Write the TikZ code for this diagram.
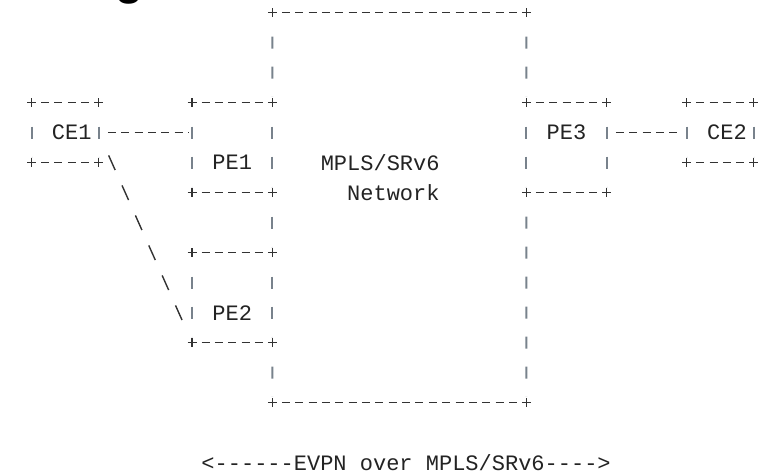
\documentclass[tikz,border=0pt]{standalone}
\usepackage{fontspec}
\setmonofont{Liberation Mono}
\newfontfamily\headfont{Liberation Sans}
\usetikzlibrary{positioning}

\definecolor{txtgray}{RGB}{35,35,35}
\definecolor{dashgray}{RGB}{50,50,50}
\definecolor{bargray}{RGB}{120,130,140}

% four dashed sides of a box, ascii style
\newcommand{\drawframe}[1]{
    \draw[hbar] (#1.north west) -- (#1.north east);
    \draw[hbar] (#1.south west) -- (#1.south east);
    \draw[vbar] (#1.north west) -- (#1.south west);
    \draw[vbar] (#1.north east) -- (#1.south east);
}

\begin{document}
\begin{tikzpicture}[x=1pt, y=-1pt,
    box/.style={inner sep=0pt, outer sep=0pt},
    lbl/.style={font=\ttfamily\fontsize{22}{30}\selectfont, text=txtgray, inner sep=0pt},
    hbar/.style={draw=dashgray, line width=1.4pt, dash pattern=on 8pt off 5.37pt, dash phase=8pt, shorten <=4pt, shorten >=4pt},
    vbar/.style={draw=bargray, line width=2pt, dash pattern=on 12pt off 18pt, dash phase=12pt, shorten <=6pt, shorten >=6pt},
    slash/.style={draw=dashgray, line width=1.4pt, dash pattern=on 16pt off 16.85pt, dash phase=24pt, shorten <=16pt, shorten >=16pt},
    cornerplus/.pic={\draw[dashgray, line width=1.4pt] (-4.5,0) -- (4.5,0) (0,-4.5) -- (0,4.5);}
    ]
    \useasboundingbox (0,0) rectangle (770,474);

    % cut off heading
    \node[font=\headfont\bfseries\fontsize{46}{46}\selectfont, anchor=south, inner sep=0pt] (headfrag) at (130,4) {g};

    % Define the boxes
    \node[box, minimum width=254.03pt, minimum height=390pt] (net) at (399.4,207.7) {};
    \node[box, minimum width=66.85pt, minimum height=60pt] (ce1) at (65.1,132.7) {};
    \node[box, minimum width=80.22pt, minimum height=90pt] (pe1) at (232.25,147.7) {};
    \node[box, minimum width=80.22pt, minimum height=90pt, below=60pt of pe1] (pe2) {};
    \node[box, minimum width=80.22pt, minimum height=90pt] (pe3) at (566.5,147.7) {};
    \node[box, minimum width=66.85pt, minimum height=60pt] (ce2) at (720.2,132.7) {};

    % Draw the frames
    \foreach \n in {ce1,pe1,pe2,pe3,ce2} {
            \drawframe{\n}
        }
    \draw[hbar] (net.north west) -- (net.north east);
    \draw[hbar] (net.south west) -- (net.south east);
    \draw[vbar] (net.north west) -- (pe1.north east);
    \draw[vbar] (pe1.south east) -- (pe2.north east);
    \draw[vbar] (pe2.south east) -- (net.south west);
    \draw[vbar] (net.north east) -- (pe3.north west);
    \draw[vbar] (pe3.south west) -- (net.south east);

    \foreach \n in {ce1,pe1,pe2,pe3,ce2,net} {
            \foreach \a in {north west,north east,south west,south east} {
                    \pic at (\n.\a) {cornerplus};
                }
        }

    % Add labels
    \node[lbl] at ([xshift=6.7pt]ce1.center) {CE1};
    \node[lbl] at ([yshift=-15pt]pe1.center) {PE1};
    \node[lbl] at ([yshift=-15pt]pe2.center) {PE2};
    \node[lbl] at ([yshift=15pt]pe3.center) {PE3};
    \node[lbl] at ([xshift=6.7pt]ce2.center) {CE2};
    \node[lbl, align=right, anchor=east] (nettext) at (439.8,177.7) {MPLS/SRv6\\Network};

    % Draw the links
    \draw[hbar] (ce1.east) -- (ce1.east -| pe1.west);
    \draw[hbar] (ce2.west -| pe3.east) -- (ce2.west);
    \draw[slash] (ce1.east) -- (pe2.south west);

    \node[lbl] (evpn) at (406.1,462.7) {<------EVPN over MPLS/SRv6---->};

\end{tikzpicture}
\end{document}
